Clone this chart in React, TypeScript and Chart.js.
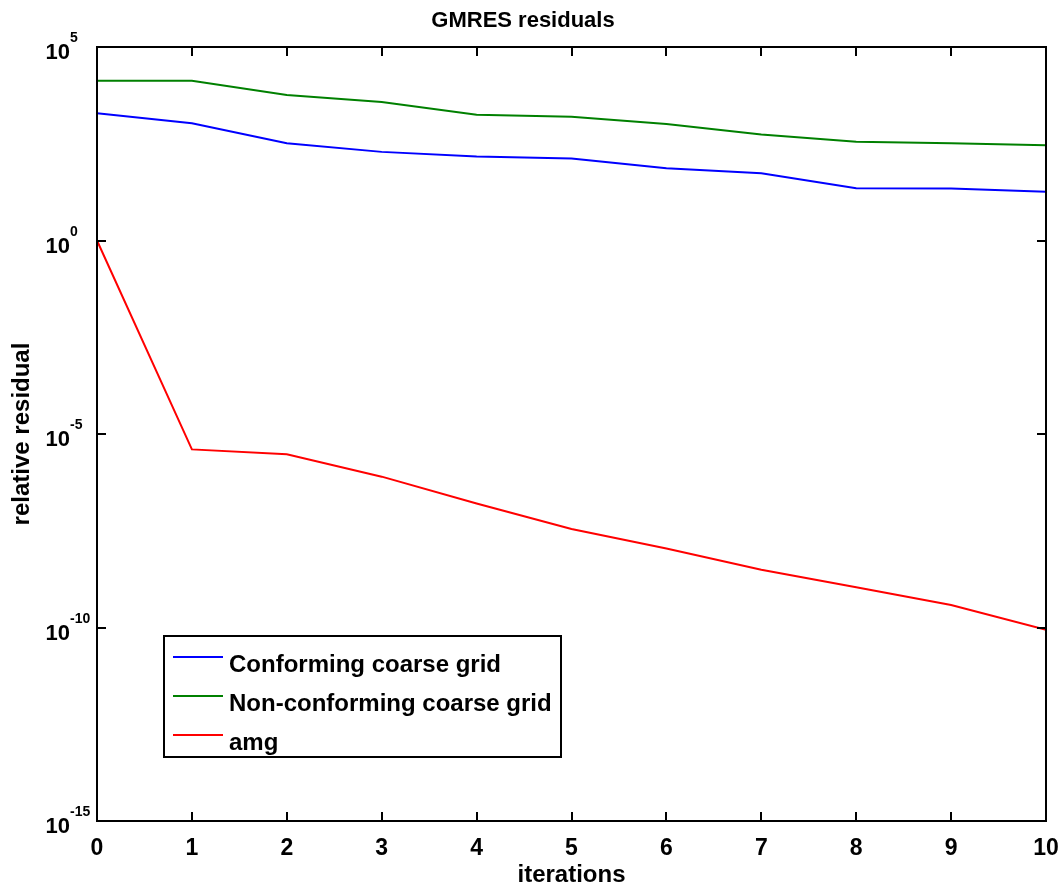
import React, { useEffect, useRef } from 'react';
import { Chart, registerables } from 'chart.js';

Chart.register(...registerables);

// ---- data ----
const iterations = [0, 1, 2, 3, 4, 5, 6, 7, 8, 9, 10];
const conforming = [1.95e3, 1.07e3, 3.24e2, 1.95e2, 1.48e2, 1.32e2, 74, 55, 22.4, 22, 18.2];
const nonConforming = [1.35e4, 1.35e4, 5.75e3, 3.8e3, 1.78e3, 1.58e3, 1.02e3, 5.5e2, 3.55e2, 3.24e2, 2.88e2];
const amg = [1, 4.0e-6, 3.0e-6, 7.9e-7, 1.6e-7, 3.5e-8, 1.1e-8, 3.1e-9, 1.1e-9, 3.8e-10, 8.7e-11];
const seriesLabels = ['Conforming coarse grid', 'Non-conforming coarse grid', 'amg'];
const seriesColors = ['#0000ff', '#008000', '#ff0000'];
const yTickValues = [1e5, 1e0, 1e-5, 1e-10, 1e-15];
const yTickExponents = ['5', '0', '-5', '-10', '-15'];
const chartTitle = 'GMRES residuals';
const xTitle = 'iterations';
const yTitle = 'relative residual';

const FONT = "'Liberation Sans', Arial, Helvetica, sans-serif";

const framePlugin = {
  id: 'matlabFrame',
  afterDraw(chart: any) {
    const { ctx, chartArea } = chart;
    const { left, right, top, bottom } = chartArea;
    const xs = chart.scales.x;
    const ys = chart.scales.y;
    ctx.save();
    // box
    ctx.strokeStyle = '#000';
    ctx.lineWidth = 2;
    ctx.strokeRect(left, top, right - left, bottom - top);
    // inward ticks
    const tl = 9;
    ctx.beginPath();
    iterations.forEach((v) => {
      const px = Math.round(xs.getPixelForValue(v));
      ctx.moveTo(px, bottom);
      ctx.lineTo(px, bottom - tl);
      ctx.moveTo(px, top);
      ctx.lineTo(px, top + tl);
    });
    yTickValues.forEach((v) => {
      const py = Math.round(ys.getPixelForValue(v));
      ctx.moveTo(left, py);
      ctx.lineTo(left + tl, py);
      ctx.moveTo(right, py);
      ctx.lineTo(right - tl, py);
    });
    ctx.stroke();

    // y tick labels 10^n
    ctx.fillStyle = '#000';
    ctx.textBaseline = 'alphabetic';
    yTickValues.forEach((v, i) => {
      const py = ys.getPixelForValue(v);
      const baseX = left - 27;
      ctx.font = `bold 22px ${FONT}`;
      ctx.textAlign = 'right';
      ctx.fillText('10', baseX, py + 12);
      ctx.font = `bold 14px ${FONT}`;
      ctx.textAlign = 'left';
      ctx.fillText(yTickExponents[i], baseX, py - 5);
    });

    // legend
    const bx = 164, by = 636, bw = 397, bh = 121;
    ctx.fillStyle = '#fff';
    ctx.fillRect(bx, by, bw, bh);
    ctx.strokeStyle = '#000';
    ctx.lineWidth = 2;
    ctx.strokeRect(bx, by, bw, bh);
    chart.data.datasets.forEach((ds: any, i: number) => {
      const ly = by + 21 + i * 39;
      ctx.strokeStyle = ds.borderColor;
      ctx.lineWidth = 2;
      ctx.beginPath();
      ctx.moveTo(bx + 9, ly);
      ctx.lineTo(bx + 59, ly);
      ctx.stroke();
      ctx.fillStyle = '#000';
      ctx.font = `bold 24px ${FONT}`;
      ctx.textAlign = 'left';
      ctx.textBaseline = 'alphabetic';
      ctx.fillText(ds.label, bx + 65, ly + 14.5);
    });
    ctx.restore();
  },
};

export default function App() {
  const canvasRef = useRef<HTMLCanvasElement | null>(null);

  useEffect(() => {
    if (!canvasRef.current) return;
    const series = [conforming, nonConforming, amg];
    const chart = new Chart(canvasRef.current, {
      type: 'line',
      data: {
        datasets: series.map((s, i) => ({
          label: seriesLabels[i],
          data: iterations.map((x, j) => ({ x, y: s[j] })),
          borderColor: seriesColors[i],
          backgroundColor: seriesColors[i],
          borderWidth: 2,
          pointRadius: 0,
          pointHoverRadius: 0,
          fill: false,
          tension: 0,
        })),
      },
      options: {
        animation: false,
        responsive: true,
        maintainAspectRatio: false,
        layout: { padding: { left: 0, right: 16, top: 0, bottom: 0 } },
        plugins: {
          legend: { display: false },
          tooltip: { enabled: false },
          title: {
            display: true,
            text: chartTitle,
            color: '#000',
            font: { family: FONT, size: 22, weight: 'bold' },
            padding: { top: 8, bottom: 12.6 },
          },
        },
        scales: {
          x: {
            type: 'linear',
            min: 0,
            max: 10,
            grid: { display: false, drawTicks: false },
            border: { display: false },
            ticks: {
              stepSize: 1,
              padding: 14,
              maxRotation: 0,
              autoSkip: false,
              color: '#000',
              font: { family: FONT, size: 23, weight: 'bold' },
            },
            title: {
              display: true,
              text: xTitle,
              color: '#000',
              font: { family: FONT, size: 24, weight: 'bold' },
              padding: { top: 0, bottom: 0 },
            },
            afterFit: (s: any) => {
              s.height = 69;
              s.paddingLeft = 0;
              s.paddingRight = 0;
            },
          },
          y: {
            type: 'logarithmic',
            min: 1e-15,
            max: 1e5,
            grid: { display: false, drawTicks: false },
            border: { display: false },
            ticks: { display: false },
            title: {
              display: true,
              text: yTitle,
              color: '#000',
              font: { family: FONT, size: 24, weight: 'bold' },
              padding: { top: 8, bottom: 0 },
            },
            afterFit: (s: any) => {
              s.width = 97;
              s.paddingTop = 0;
              s.paddingBottom = 0;
            },
          },
        },
      } as any,
      plugins: [framePlugin],
    });
    return () => chart.destroy();
  }, []);

  return (
    <div style={{ position: 'fixed', left: 0, top: 0, width: 1062, height: 890, background: '#fff' }}>
      <canvas ref={canvasRef} />
    </div>
  );
}
